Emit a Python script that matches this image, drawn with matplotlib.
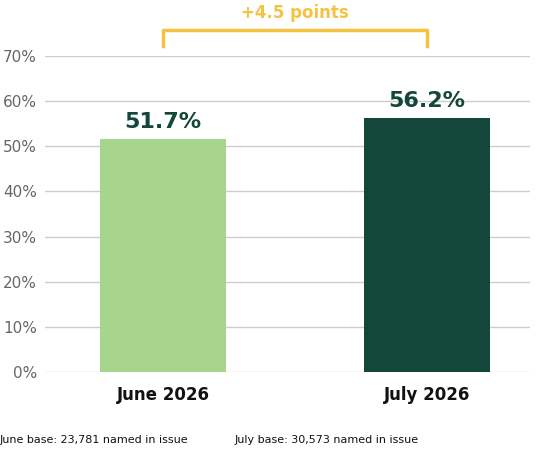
import matplotlib
matplotlib.use("Agg")
import matplotlib.pyplot as plt

categories = ["June 2026", "July 2026"]
values = [51.7, 56.2]
labels = ["51.7%", "56.2%"]
colors = ["#A8D58E", "#12473A"]
yticks = [0, 10, 20, 30, 40, 50, 60, 70]
diff_label = "+4.5 points"
notes = ["June base: 23,781 named in issue", "July base: 30,573 named in issue"]

fig = plt.figure(figsize=(5.45, 4.5), dpi=100)
ax = fig.add_axes([0.083, 0.173, 0.889, 0.703])
x = [0, 1]
ax.bar(x, values, width=0.48, color=colors, zorder=3)
ax.set_xlim(-0.447, 1.39)
ax.set_ylim(0, 70)
ax.set_yticks(yticks)
ax.set_yticklabels([f"{t}%" for t in yticks], color="#666666", fontsize=11)
ax.yaxis.grid(True, color="#cccccc", linewidth=1, zorder=0)
ax.tick_params(axis="both", length=0)
ax.tick_params(axis="y", pad=6)
ax.set_xticks(x)
ax.set_xticklabels(categories, fontsize=12, fontweight="bold", color="#111111")
ax.tick_params(axis="x", pad=10)
for s in ax.spines.values():
    s.set_visible(False)
for xi, v, l in zip(x, values, labels):
    ax.text(xi, v + 1.5, l, ha="center", va="bottom", fontsize=16, fontweight="bold", color="#12473A")
gold = "#F5C242"
ax.plot([x[0], x[0], x[1], x[1]], [72.1, 75.8, 75.8, 72.1], color=gold, lw=2.5, clip_on=False)
ax.text(0.5, 79.5, diff_label, ha="center", va="center", fontsize=12, fontweight="bold", color=gold, clip_on=False)
fig.text(0.0, 0.022, notes[0], fontsize=8, color="#111111", ha="left", va="center")
fig.text(0.43, 0.022, notes[1], fontsize=8, color="#111111", ha="left", va="center")
fig.savefig("out.png", dpi=100)
